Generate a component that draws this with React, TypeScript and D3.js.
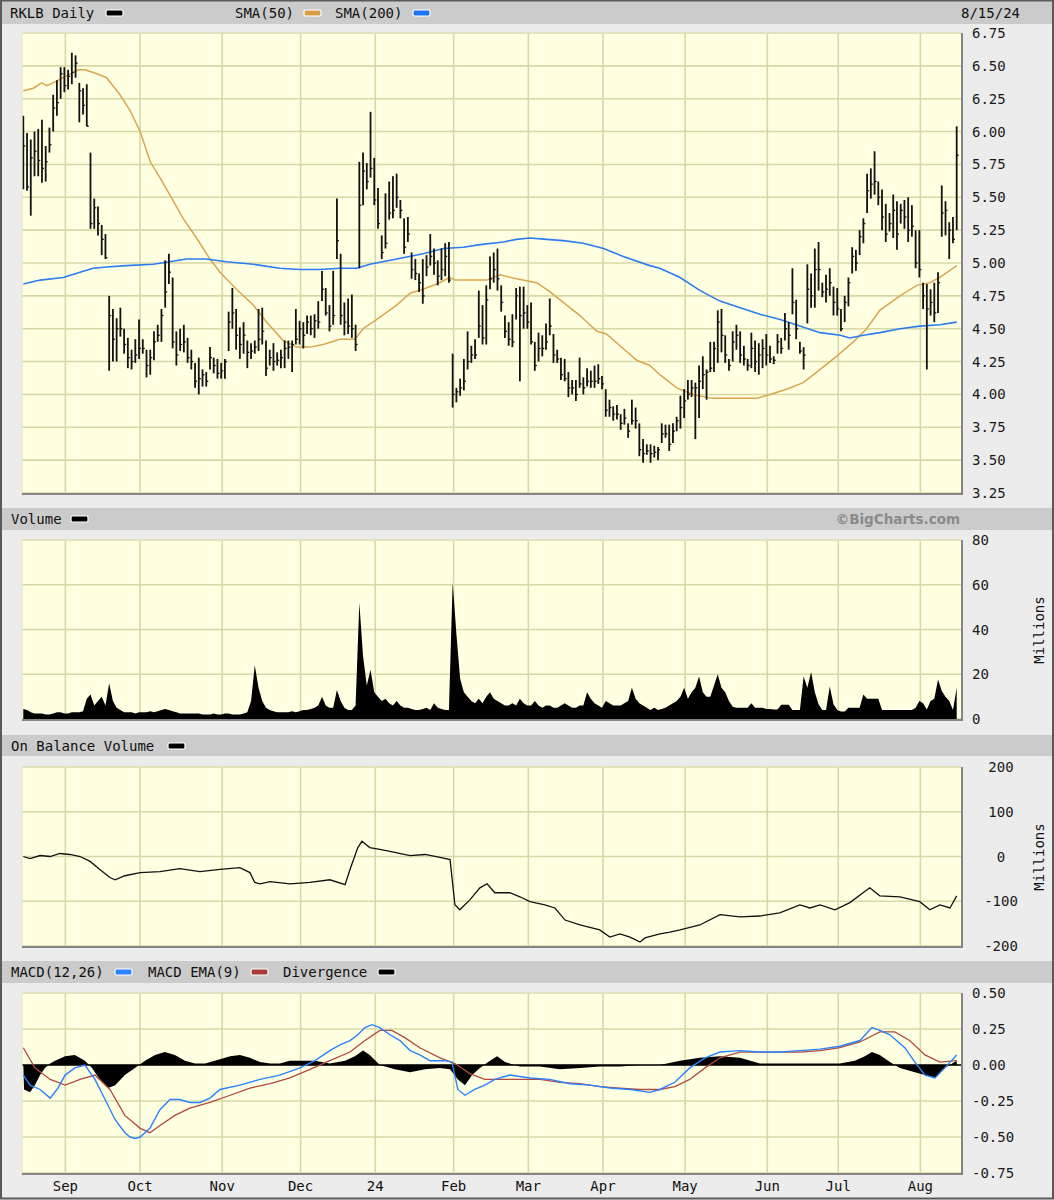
import React from 'react';
import * as d3 from 'd3';

// ---------- DATA ----------
const monthLabels = ['Sep', 'Oct', 'Nov', 'Dec', '24', 'Feb', 'Mar', 'Apr', 'May', 'Jun', 'Jul', 'Aug'];
const monthStartIdx = [11, 31, 53, 74, 94, 115, 135, 155, 177, 199, 218, 240];

const priceTicks = [3.25, 3.5, 3.75, 4.0, 4.25, 4.5, 4.75, 5.0, 5.25, 5.5, 5.75, 6.0, 6.25, 6.5, 6.75];
const volTicks = [0, 20, 40, 60, 80];
const obvTicks = [-200, -100, 0, 100, 200];
const macdTicks = [-0.75, -0.5, -0.25, 0, 0.25, 0.5];

const highs = [
  6.12, 5.99, 5.94, 6.0, 6.02, 6.09, 5.89, 6.03, 6.28, 6.39, 6.49, 6.49, 6.47, 6.6, 6.58, 6.37, 6.33, 6.36, 5.84, 5.49, 5.43, 5.29, 5.22, 4.75,
  4.65, 4.58, 4.66, 4.5, 4.43, 4.34, 4.42, 4.57, 4.42, 4.34, 4.34, 4.48, 4.53, 4.65, 5.02, 5.07, 4.89, 4.48, 4.5, 4.53, 4.43, 4.34, 4.24, 4.28, 4.19, 4.17,
  4.36, 4.28, 4.27, 4.24, 4.27, 4.63, 4.81, 4.65, 4.51, 4.55, 4.41, 4.39, 4.41, 4.65, 4.66, 4.41, 4.34, 4.39, 4.32, 4.34, 4.41, 4.41, 4.41, 4.65, 4.56,
  4.55, 4.6, 4.6, 4.61, 4.71, 4.94, 4.81, 4.68, 4.94, 5.49,
  5.07, 4.7, 4.73, 4.76, 4.53, 5.77, 5.84, 5.76, 6.15, 5.8, 5.57, 5.21, 5.53, 5.62, 5.66, 5.68, 5.48, 5.34, 5.35, 5.08, 5.03, 4.92, 5.03, 5.06, 5.22,
  5.11, 5.02, 5.11, 5.15, 5.16,
  4.31, 4.05, 4.12, 4.27, 4.48, 4.37, 4.42, 4.79, 4.68, 4.83, 5.05, 5.08, 5.11, 4.83, 4.6, 4.55, 4.61, 4.81, 4.82, 4.82, 4.68, 4.7, 4.4, 4.47, 4.45,
  4.54, 4.73, 4.46, 4.34, 4.28, 4.27, 4.17, 4.11, 4.11, 4.28, 4.13, 4.2, 4.18, 4.22, 4.23, 4.14, 4.04, 3.96, 3.91, 3.92, 3.85, 3.89, 3.78, 3.96, 3.9,
  3.78, 3.66, 3.62,
  3.62, 3.61, 3.6, 3.78, 3.77, 3.77, 3.78, 3.83, 3.99, 4.04, 4.11, 4.11, 4.09, 4.22, 4.29, 4.19, 4.4, 4.4, 4.64, 4.65, 4.45, 4.27, 4.48, 4.53, 4.48,
  4.37, 4.27, 4.47, 4.41, 4.39, 4.42,
  4.46, 4.37, 4.29, 4.46, 4.43, 4.62, 4.55, 4.96, 4.72, 4.4, 4.36, 4.99, 4.92, 5.11, 5.16, 4.85, 4.91, 4.96, 4.82,
  4.81, 4.65, 4.75, 4.89, 5.12, 5.1, 5.25, 5.34, 5.68, 5.72, 5.85, 5.62, 5.56, 5.45, 5.38, 5.52, 5.47, 5.45, 5.48, 5.5, 5.44, 5.25, 5.25, 4.85, 4.84,
  4.8, 4.85, 4.93, 5.59, 5.47, 5.31, 5.35, 6.04,
];
const lows = [
  5.56, 5.55, 5.36, 5.66, 5.66, 5.61, 5.62, 5.84, 6.0, 6.12, 6.25, 6.3, 6.32, 6.36, 6.41, 6.07, 6.13, 6.04, 5.26, 5.26, 5.21, 5.06, 5.03, 4.18,
  4.25, 4.25, 4.44, 4.31, 4.2, 4.19, 4.24, 4.27, 4.31, 4.13, 4.15, 4.26, 4.4, 4.4, 4.66, 4.84, 4.35, 4.22, 4.33, 4.32, 4.24, 4.19, 4.05, 4.0, 4.06, 4.06,
  4.19, 4.16, 4.12, 4.12, 4.12, 4.33, 4.5, 4.34, 4.27, 4.31, 4.2, 4.27, 4.31, 4.33, 4.38, 4.14, 4.22, 4.18, 4.22, 4.2, 4.2, 4.27, 4.17, 4.38, 4.38,
  4.35, 4.46, 4.45, 4.43, 4.5, 4.71, 4.6, 4.48, 4.53, 5.03,
  4.53, 4.45, 4.46, 4.43, 4.33, 4.96, 5.44, 5.56, 5.65, 5.44, 5.26, 5.03, 5.11, 5.33, 5.34, 5.42, 5.34, 5.07, 5.16, 4.88, 4.87, 4.78, 4.69, 4.9, 4.98,
  4.91, 4.83, 4.87, 4.9, 4.85,
  3.9, 3.94, 3.99, 4.03, 4.19, 4.24, 4.27, 4.43, 4.38, 4.38, 4.8, 4.85, 4.79, 4.63, 4.43, 4.37, 4.36, 4.57, 4.1, 4.5, 4.5, 4.38, 4.18, 4.25, 4.29,
  4.34, 4.45, 4.24, 4.24, 4.11, 4.1, 3.98, 4.0, 3.95, 4.05, 4.0, 4.06, 4.05, 4.05, 4.08, 4.04, 3.83, 3.83, 3.8, 3.81, 3.73, 3.77, 3.67, 3.77, 3.74,
  3.53, 3.48, 3.54,
  3.48, 3.52, 3.5, 3.63, 3.67, 3.57, 3.63, 3.72, 3.74, 3.82, 3.96, 3.98, 3.66, 3.82, 4.04, 3.96, 4.17, 4.17, 4.24, 4.32, 4.24, 4.18, 4.25, 4.34, 4.24,
  4.22, 4.18, 4.2, 4.17, 4.15, 4.2,
  4.22, 4.24, 4.23, 4.31, 4.31, 4.41, 4.34, 4.61, 4.42, 4.31, 4.19, 4.54, 4.66, 4.66, 4.79, 4.74, 4.7, 4.75, 4.6,
  4.6, 4.48, 4.55, 4.67, 4.92, 4.94, 5.06, 5.15, 5.38, 5.49, 5.52, 5.44, 5.25, 5.16, 5.24, 5.19, 5.1, 5.3, 5.26, 5.16, 5.2, 4.96, 4.89, 4.65, 4.19,
  4.6, 4.55, 4.62, 5.2, 5.21, 5.03, 5.15, 5.25,
];
const closes = [
  5.89, 5.58, 5.8, 5.85, 5.78, 5.72, 5.77, 5.9, 6.18, 6.22, 6.44, 6.35, 6.42, 6.45, 6.52, 6.31, 6.2, 6.04, 5.3, 5.42, 5.3, 5.18, 5.04, 4.6,
  4.42, 4.5, 4.5, 4.38, 4.28, 4.25, 4.3, 4.35, 4.35, 4.22, 4.28, 4.4, 4.45, 4.6, 4.78, 4.93, 4.4, 4.3, 4.38, 4.4, 4.28, 4.25, 4.1, 4.12, 4.15, 4.1,
  4.28, 4.22, 4.16, 4.18, 4.25, 4.55, 4.62, 4.45, 4.38, 4.45, 4.32, 4.33, 4.36, 4.42, 4.48, 4.2, 4.28, 4.25, 4.26, 4.28, 4.35, 4.36, 4.38, 4.42, 4.5,
  4.45, 4.55, 4.5, 4.56, 4.55, 4.8, 4.62, 4.52, 4.6, 5.17,
  4.6, 4.55, 4.52, 4.5, 4.38, 5.44, 5.7, 5.62, 5.72, 5.48, 5.3, 5.08, 5.15, 5.38, 5.4, 5.5, 5.4, 5.12, 5.22, 4.95, 4.92, 4.85, 4.75, 4.97, 5.05,
  5.0, 4.9, 4.95, 5.05, 4.87,
  4.0, 4.02, 4.05, 4.1, 4.25, 4.3, 4.3, 4.52, 4.43, 4.72, 4.88, 4.95, 4.88, 4.7, 4.48, 4.42, 4.4, 4.75, 4.6, 4.62, 4.55, 4.4, 4.22, 4.35, 4.35,
  4.4, 4.52, 4.3, 4.27, 4.15, 4.12, 4.05, 4.05, 4.0, 4.08, 4.05, 4.1, 4.1, 4.1, 4.12, 4.08, 3.88, 3.9, 3.85, 3.85, 3.78, 3.82, 3.72, 3.8, 3.8,
  3.58, 3.55, 3.57,
  3.55, 3.56, 3.58, 3.7, 3.7, 3.62, 3.72, 3.8, 3.9, 3.95, 4.0, 4.05, 4.05, 4.1, 4.15, 4.17, 4.2, 4.35, 4.55, 4.45, 4.3, 4.22, 4.4, 4.45, 4.3,
  4.27, 4.22, 4.35, 4.25, 4.3, 4.35,
  4.3, 4.27, 4.26, 4.4, 4.35, 4.5, 4.45, 4.7, 4.5, 4.33, 4.3, 4.8, 4.75, 4.95, 4.95, 4.78, 4.8, 4.85, 4.7,
  4.65, 4.5, 4.7, 4.85, 5.05, 5.0, 5.2, 5.3, 5.55, 5.6, 5.62, 5.5, 5.35, 5.22, 5.3, 5.4, 5.22, 5.4, 5.35, 5.25, 5.28, 5.0, 4.95, 4.75, 4.65,
  4.7, 4.62, 4.85, 5.38, 5.4, 5.25, 5.18, 5.82,
];

const volumes = [
  4.5, 4, 3, 2.5, 2.5, 2.5, 2, 2, 2.5, 3,
  3, 2.5, 2.5, 3, 3, 3, 3.5, 9, 11, 6,
  8, 10, 6, 16, 8, 5, 4, 3, 3, 3,
  2.5, 3, 3, 3, 3.5, 3, 3.5, 4, 4.5, 4,
  3.5, 3, 2.5, 2.5, 2.5, 2.5, 2.5, 2.5, 2, 2,
  2, 2.5, 2, 2, 2.5, 2.5, 2, 2, 2, 2.5,
  3, 8, 24, 14, 8, 5, 4, 3.5, 3, 3,
  3, 3, 3.5, 3, 3.5, 4, 4, 4.5, 5, 6,
  10, 6, 5, 5, 13, 8, 5, 4, 4, 6,
  52, 28, 15, 22, 12, 10, 8, 9, 7, 6,
  8, 6, 5, 5, 4.5, 4, 4, 4.5, 5, 4,
  7, 5, 4.5, 4, 4, 61, 38, 18, 12, 10,
  8, 7, 9, 7, 10, 12, 9, 8, 7, 6,
  6, 7, 6, 9, 7, 6, 6, 8, 6, 5,
  6, 6, 5, 5, 6, 7, 6, 5, 5, 6,
  6, 12, 9, 7, 6, 5, 8, 7, 6, 6,
  6, 7, 8, 14, 9, 7, 6, 5, 4, 5,
  4, 4.5, 5, 6, 7, 8, 10, 14, 9, 12,
  14, 19, 12, 10, 10, 15, 20, 14, 12, 8,
  5.5, 5, 5, 5, 5, 7, 5, 5, 5, 4.5,
  4.5, 4.2, 4.2, 6.4, 6.4, 6.4, 4, 4, 4, 19,
  14, 21, 12, 6.6, 4, 4, 14.5, 6.6, 4, 3.3,
  3.3, 5, 5, 5, 5, 11, 9, 9, 9, 9,
  4, 4, 4, 4, 4, 4, 4, 4, 4, 5,
  8, 7, 4.3, 8, 9, 17.6, 12.5, 10, 8, 4, 14,
];

// [trading-day index, value]
const sma50: [number, number][] = [
  [0, 6.31], [2.7, 6.33], [4.9, 6.37], [6.3, 6.35], [8, 6.37], [10.7, 6.41], [14.7, 6.47], [16.5, 6.47], [19.7, 6.44], [22.3, 6.41],
  [25.9, 6.28], [28.6, 6.16], [31.3, 6.0], [34, 5.77], [36.6, 5.65], [40.2, 5.47], [42.8, 5.34], [46.4, 5.19], [50, 5.03], [52.7, 4.93],
  [57.1, 4.8], [61.6, 4.68], [65.2, 4.55], [69.6, 4.41], [73.2, 4.36], [76.8, 4.36], [80.3, 4.38], [84.8, 4.42], [88.8, 4.42], [91, 4.5],
  [94.6, 4.57], [100, 4.68], [103.6, 4.77], [107.1, 4.8], [110.7, 4.84], [114.3, 4.89], [115.6, 4.87], [120.5, 4.87], [124.1, 4.87],
  [127.7, 4.91], [132.1, 4.88], [137.5, 4.85], [141.1, 4.78], [144.6, 4.7], [149.1, 4.6], [153.6, 4.48], [156.2, 4.46], [159.8, 4.37],
  [164.3, 4.26], [167.8, 4.22], [170.5, 4.15], [175, 4.05], [179.4, 4.0], [184.4, 3.97], [188.4, 3.97], [196.4, 3.97], [200, 4.0],
  [204.4, 4.04], [208.9, 4.09], [212.5, 4.17], [217.8, 4.29], [222.3, 4.4], [225.9, 4.5], [229.4, 4.64], [234.8, 4.75], [239.3, 4.83],
  [242.8, 4.85], [245.5, 4.89], [250, 4.98],
];
const sma200: [number, number][] = [
  [0, 4.84], [4.5, 4.87], [10.7, 4.89], [15.2, 4.93], [18.7, 4.96], [22.3, 4.97], [27.6, 4.98], [34.8, 4.99], [39.2, 5.01], [43.7, 5.03],
  [49, 5.03], [54.4, 5.01], [61.6, 4.99], [68.7, 4.96], [74.1, 4.95], [79.4, 4.95], [84.8, 4.96], [89.3, 4.96], [92.8, 4.99], [100, 5.03],
  [107.1, 5.07], [112.5, 5.11], [117.9, 5.12], [122.3, 5.14], [128.6, 5.16], [132.1, 5.18], [135.7, 5.19], [140.2, 5.18], [144.6, 5.17],
  [150, 5.15], [155.4, 5.11], [160.7, 5.05], [167.8, 4.98], [170.5, 4.96], [175.9, 4.89], [181.3, 4.79], [186.6, 4.71], [192, 4.66],
  [197.3, 4.61], [202.7, 4.57], [208, 4.52], [213.4, 4.47], [218.8, 4.45], [221.4, 4.43], [225, 4.45], [229.4, 4.47], [234.8, 4.5],
  [240.1, 4.52], [245.5, 4.53], [250, 4.55],
];
const obv: [number, number][] = [
  [0, 0], [1.8, -4.5], [4.5, 2.2], [7.2, 0], [9.8, 6.7], [12.5, 4.5], [15.2, 0], [17.9, -11], [20.5, -29], [23.2, -47], [24.6, -52],
  [27.2, -43], [31.3, -36], [36.6, -34], [41.9, -27], [47.3, -34], [52.7, -29], [58, -25], [60.7, -36], [62, -58], [63.4, -61],
  [66.1, -56], [71.4, -61], [76.8, -58], [82.1, -52], [86.2, -63], [87.5, -29], [89.6, 20], [90.7, 34], [92.8, 20], [95.5, 16],
  [99.5, 9], [103.6, 2], [107.6, 4.5], [111.6, -2], [114.3, -7], [115.6, -108], [116.9, -119], [119.6, -97], [122.3, -70],
  [124.2, -61], [126.3, -81], [130.3, -81], [133, -90], [135.7, -101], [139.7, -108], [142.4, -115], [145.1, -142], [149.1, -153],
  [154.4, -164], [157.1, -180], [159.8, -173], [162.5, -180], [165.2, -191], [166.5, -182], [170.5, -173], [173.2, -169],
  [175.9, -164], [181.2, -153], [186.6, -130], [191.9, -135], [197.3, -133], [202.6, -126], [208, -108], [210.7, -115],
  [213.4, -108], [217.4, -119], [221.4, -103], [226.7, -70], [229.4, -88], [234.8, -90], [240.1, -101], [242.8, -119],
  [245.5, -108], [248.2, -115], [250, -88],
];
const macd: [number, number][] = [
  [0, -0.07], [1.8, -0.14], [4.5, -0.17], [7.2, -0.23], [9.3, -0.16], [11.2, -0.07], [13.8, -0.02], [16.5, 0], [19.2, -0.1],
  [21.9, -0.24], [24.6, -0.38], [27.2, -0.47], [28.6, -0.5], [29.9, -0.51], [31.3, -0.5], [33.9, -0.44], [36.6, -0.31], [39.3, -0.24],
  [41.9, -0.24], [44.6, -0.26], [47.3, -0.26], [50, -0.23], [52.7, -0.17], [58, -0.14], [63.4, -0.1], [68.7, -0.07], [74.1, -0.02],
  [78.1, 0.03], [82.1, 0.1], [84.8, 0.14], [87.5, 0.17], [89.6, 0.21], [91.5, 0.26], [93.4, 0.28], [95.5, 0.26], [98.2, 0.21],
  [100.9, 0.17], [103.6, 0.1], [106.2, 0.07], [108.9, 0.03], [112.9, 0.03], [114.8, 0.02], [116.4, -0.17], [118.3, -0.21],
  [120.9, -0.17], [123.6, -0.14], [126.3, -0.1], [130.3, -0.07], [135.7, -0.09], [141, -0.1], [146.4, -0.13], [151.8, -0.14],
  [157.1, -0.16], [162.5, -0.17], [167.8, -0.19], [170.5, -0.17], [174.5, -0.12], [178.5, -0.02], [182.6, 0.05], [186.6, 0.09],
  [191.9, 0.1], [197.3, 0.09], [202.6, 0.09], [208, 0.1], [213.4, 0.11], [218.7, 0.13], [224.1, 0.17], [227.3, 0.26], [229.4, 0.24],
  [232.1, 0.21], [236.1, 0.12], [238.8, 0.02], [241.5, -0.07], [244.2, -0.09], [246.8, -0.02], [250, 0.07],
];
const macdSignal: [number, number][] = [
  [0, 0.12], [3.1, -0.02], [7.2, -0.1], [11.2, -0.14], [15.2, -0.1], [19.2, -0.07], [23.2, -0.17], [27.2, -0.35], [31.3, -0.44],
  [33.9, -0.47], [36.6, -0.42], [40.6, -0.35], [44.6, -0.3], [50, -0.26], [55.4, -0.21], [60.7, -0.16], [66.1, -0.13], [71.4, -0.09],
  [76.8, -0.03], [82.1, 0.03], [87.5, 0.09], [91.5, 0.17], [95.5, 0.24], [98.7, 0.24], [102.2, 0.19], [106.2, 0.12], [111.6, 0.05],
  [115.6, 0.01], [119.6, -0.06], [123.6, -0.1], [127.7, -0.1], [133, -0.1], [138.4, -0.1], [143.7, -0.12], [149.1, -0.13],
  [154.4, -0.15], [159.8, -0.16], [165.2, -0.17], [170.5, -0.17], [174.5, -0.15], [178.5, -0.1], [182.6, -0.02], [186.6, 0.05],
  [191.9, 0.09], [197.3, 0.09], [208, 0.09], [213.4, 0.1], [218.7, 0.12], [224.1, 0.16], [229.4, 0.23], [233.4, 0.23], [237.4, 0.17],
  [241.5, 0.07], [245.5, 0.02], [250, 0.03],
];
const divergence: [number, number][] = [
  [0, 0], [0.2, -0.17], [1.8, -0.19], [3.1, -0.14], [4.5, -0.07], [5.8, -0.02], [7.2, 0.01], [8.5, 0.03], [11.2, 0.06], [13.8, 0.07],
  [16.5, 0.03], [18.4, -0.02], [20.5, -0.1], [22.7, -0.16], [24.6, -0.14], [27.2, -0.07], [29.9, -0.02], [32.6, 0.03], [35.3, 0.07],
  [37.9, 0.09], [40.6, 0.07], [43.3, 0.03], [46, 0.01], [48.7, 0.01], [51.3, 0.03], [55.4, 0.06], [58, 0.07], [60.7, 0.05],
  [63.4, 0.02], [66.1, 0.01], [68.7, 0.01], [71.4, 0.03], [74.1, 0.03], [78.1, 0.03], [82.1, 0.01], [86.2, 0.03], [88.8, 0.06],
  [91, 0.1], [92.8, 0.07], [95.5, 0], [99.5, -0.03], [103.6, -0.05], [107.6, -0.03], [111.6, -0.02], [114.3, -0.03], [116.4, -0.1],
  [118.3, -0.14], [120.2, -0.07], [122.3, -0.02], [125, 0.03], [126.9, 0.06], [129, 0.02], [133, -0.01], [138.4, -0.01],
  [143.7, -0.03], [149.1, -0.02], [154.4, -0.01], [159.8, -0.01], [165.2, 0], [170.5, 0], [175.9, 0.03], [181.2, 0.05],
  [186.6, 0.06], [191.9, 0.05], [197.3, 0.01], [202.6, 0.01], [208, 0.01], [213.4, 0.01], [218.7, 0.01], [222.7, 0.03],
  [225.4, 0.06], [227.3, 0.09], [229.4, 0.07], [232.1, 0.02], [234.8, -0.02], [238.8, -0.05], [241.5, -0.07], [244.2, -0.09],
  [246.8, -0.02], [250, 0.03],
];

// ---------- LAYOUT ----------
const W = 1054;
const H = 1200;
const PL = 22;
const PR = 961;
const MONO = "'DejaVu Sans Mono', 'Liberation Mono', monospace";
const GRID = '#d8d8a6';
const PLOT_BG = '#ffffe2';
const PAGE_BG = '#ececec';
const BAND_BG = '#cbcbcb';

const x = d3.scaleLinear().domain([0, 250]).range([23.3, 956.7]);

const panels = {
  price: { top: 33, bottom: 493 },
  vol: { top: 540, bottom: 719 },
  obv: { top: 767, bottom: 946 },
  macd: { top: 993, bottom: 1173 },
};

const yPrice = d3.scaleLinear().domain([3.25, 6.75]).range([panels.price.bottom, panels.price.top]);
const yVol = d3.scaleLinear().domain([0, 80]).range([panels.vol.bottom, panels.vol.top]);
const yObv = d3.scaleLinear().domain([-200, 200]).range([panels.obv.bottom, panels.obv.top]);
const yMacd = d3.scaleLinear().domain([-0.75, 0.5]).range([panels.macd.bottom, panels.macd.top]);

function Swatch({ x0, y0, color }: { x0: number; y0: number; color: string }) {
  return <rect x={x0} y={y0} width={17} height={6} rx={1.5} fill={color} stroke="#fff" strokeWidth={1.2} />;
}

function PlotFrame({ top, bottom, ticks, y, fmt, labelX = 972, anchor = 'start', children }: any) {
  return (
    <g>
      <rect x={PL} y={top} width={PR - PL} height={bottom - top} fill={PLOT_BG} />
      {ticks.map((t: number) => (
        <line key={'h' + t} x1={PL} x2={PR} y1={y(t)} y2={y(t)} stroke={GRID} strokeWidth={1.6} />
      ))}
      {monthStartIdx.map((m) => (
        <line key={'v' + m} x1={x(m) + 1} x2={x(m) + 1} y1={top} y2={bottom} stroke={GRID} strokeWidth={1.6} />
      ))}
      {children}
      <line x1={PL} x2={PR} y1={top} y2={top} stroke="#e4e4c8" strokeWidth={1} />
      <line x1={PL} x2={PL} y1={top} y2={bottom} stroke="#e4e4c8" strokeWidth={1} />
      <line x1={PL} x2={PR + 1} y1={bottom + 1} y2={bottom + 1} stroke="#858585" strokeWidth={2} />
      <line x1={PR + 1} x2={PR + 1} y1={top} y2={bottom + 2} stroke="#858585" strokeWidth={2} />
      {ticks.map((t: number) => (
        <text key={'l' + t} x={labelX} y={y(t) + 5} textAnchor={anchor} fontFamily={MONO} fontSize={14} fill="#1a1a1a">
          {fmt(t)}
        </text>
      ))}
    </g>
  );
}

export default function App() {
  const sma50Path = d3.line<[number, number]>().x((d) => x(d[0])).y((d) => yPrice(d[1]))(sma50) || '';
  const sma200Path = d3.line<[number, number]>().x((d) => x(d[0])).y((d) => yPrice(d[1]))(sma200) || '';
  const obvPath = d3.line<[number, number]>().x((d) => x(d[0])).y((d) => yObv(d[1]))(obv) || '';
  const macdPath = d3.line<[number, number]>().x((d) => x(d[0])).y((d) => yMacd(d[1]))(macd) || '';
  const sigPath = d3.line<[number, number]>().x((d) => x(d[0])).y((d) => yMacd(d[1]))(macdSignal) || '';
  const divPath =
    d3
      .area<[number, number]>()
      .x((d) => x(d[0]))
      .y0(yMacd(0))
      .y1((d) => yMacd(d[1]))(divergence) || '';
  const volPath =
    d3
      .area<number>()
      .x((_, i) => x(i))
      .y0(yVol(0))
      .y1((d) => yVol(d))(volumes) || '';

  const bandText = (t: string, xx: number, yy: number) => (
    <text x={xx} y={yy} fontFamily={MONO} fontSize={14} fill="#111">
      {t}
    </text>
  );

  return (
    <div style={{ position: 'absolute', left: 0, top: 0, width: W, height: H }}>
      <svg width={W} height={H} viewBox={`0 0 ${W} ${H}`} style={{ display: 'block' }}>
        <rect x={0} y={0} width={W} height={H} fill={PAGE_BG} />
        {/* header bands */}
        <rect x={2} y={1} width={W - 4} height={23} fill={BAND_BG} />
        <rect x={2} y={508} width={W - 4} height={22} fill={BAND_BG} />
        <rect x={2} y={735} width={W - 4} height={21} fill={BAND_BG} />
        <rect x={2} y={961} width={W - 4} height={22} fill={BAND_BG} />

        {bandText('RKLB Daily', 10, 18)}
        <Swatch x0={106} y0={10} color="#000" />
        {bandText('SMA(50)', 235, 18)}
        <Swatch x0={304} y0={10} color="#d6a04a" />
        {bandText('SMA(200)', 335, 18)}
        <Swatch x0={413} y0={10} color="#1a73f0" />
        {bandText('8/15/24', 961, 18)}

        {bandText('Volume', 11, 524)}
        <Swatch x0={71} y0={516} color="#000" />
        <text x={960} y={524} textAnchor="end" fontFamily="'DejaVu Sans', Verdana, sans-serif" fontWeight="bold" fontSize={13.5} fill="#8a8a8a">
          ©BigCharts.com
        </text>

        {bandText('On Balance Volume', 11, 751)}
        <Swatch x0={168} y0={743} color="#000" />

        {bandText('MACD(12,26)', 11, 977)}
        <Swatch x0={115} y0={969} color="#2a82ff" />
        {bandText('MACD EMA(9)', 148, 977)}
        <Swatch x0={251} y0={969} color="#a83a3a" />
        {bandText('Divergence', 283, 977)}
        <Swatch x0={378} y0={969} color="#000" />

        {/* PRICE */}
        <PlotFrame {...panels.price} ticks={priceTicks} y={yPrice} fmt={(t: number) => t.toFixed(2)}>
          <path d={sma50Path} fill="none" stroke="#d9a650" strokeWidth={1.5} />
          <path d={sma200Path} fill="none" stroke="#2a7cf0" strokeWidth={1.6} />
          {highs.map((h, i) => (
            <g key={i}>
              <line x1={x(i)} x2={x(i)} y1={yPrice(h)} y2={yPrice(lows[i])} stroke="#111" strokeWidth={1.8} />
              <line x1={x(i)} x2={x(i) + 2} y1={yPrice(closes[i])} y2={yPrice(closes[i])} stroke="#111" strokeWidth={1.3} />
            </g>
          ))}
        </PlotFrame>

        {/* VOLUME */}
        <PlotFrame {...panels.vol} ticks={volTicks} y={yVol} fmt={(t: number) => String(t)}>
          <path d={volPath} fill="#000" />
        </PlotFrame>
        <text transform={`translate(1044, 630) rotate(-90)`} textAnchor="middle" fontFamily={MONO} fontSize={14} fill="#111">
          Millions
        </text>

        {/* OBV */}
        <PlotFrame {...panels.obv} ticks={obvTicks} y={yObv} fmt={(t: number) => String(t)} labelX={1001} anchor="middle">
          <path d={obvPath} fill="none" stroke="#111" strokeWidth={1.3} />
        </PlotFrame>
        <text transform={`translate(1044, 857) rotate(-90)`} textAnchor="middle" fontFamily={MONO} fontSize={14} fill="#111">
          Millions
        </text>

        {/* MACD */}
        <PlotFrame {...panels.macd} ticks={macdTicks} y={yMacd} fmt={(t: number) => t.toFixed(2)}>
          <path d={divPath} fill="#000" />
          <line x1={PL} x2={PR} y1={yMacd(0)} y2={yMacd(0)} stroke="#000" strokeWidth={1.3} />
          <path d={sigPath} fill="none" stroke="#b04a40" strokeWidth={1.3} />
          <path d={macdPath} fill="none" stroke="#2a82ff" strokeWidth={1.4} />
        </PlotFrame>

        {monthLabels.map((m, k) => (
          <text key={m} x={x(monthStartIdx[k]) + 1} y={1191} textAnchor="middle" fontFamily={MONO} fontSize={14} fill="#111">
            {m}
          </text>
        ))}

        <rect x={1} y={0.5} width={W - 2} height={H - 2} fill="none" stroke="#5a5a5a" strokeWidth={2} />
      </svg>
    </div>
  );
}
